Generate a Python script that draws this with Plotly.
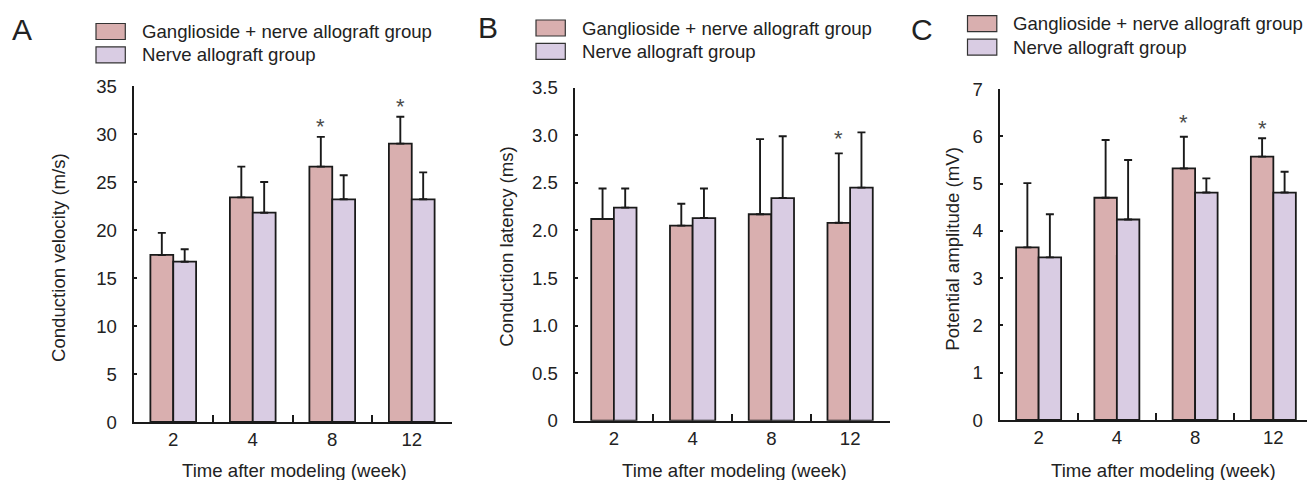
import plotly.graph_objects as go

W, H = 1307, 480

weeks = ["2", "4", "8", "12"]
group_names = ["Ganglioside + nerve allograft group", "Nerve allograft group"]

# Panel A: conduction velocity (m/s)
velocity_gang = [17.4, 23.4, 26.6, 29.0]
velocity_gang_top = [19.7, 26.6, 29.7, 31.8]
velocity_nerve = [16.7, 21.8, 23.2, 23.2]
velocity_nerve_top = [18.0, 25.0, 25.7, 26.0]
velocity_sig = [False, False, True, True]

# Panel B: conduction latency (ms)
latency_gang = [2.12, 2.05, 2.17, 2.08]
latency_gang_top = [2.44, 2.28, 2.96, 2.81]
latency_nerve = [2.24, 2.13, 2.34, 2.45]
latency_nerve_top = [2.44, 2.44, 2.99, 3.03]
latency_sig = [False, False, False, True]

# Panel C: potential amplitude (mV)
amplitude_gang = [3.65, 4.70, 5.32, 5.57]
amplitude_gang_top = [5.01, 5.92, 5.99, 5.96]
amplitude_nerve = [3.44, 4.24, 4.81, 4.81]
amplitude_nerve_top = [4.35, 5.50, 5.11, 5.25]
amplitude_sig = [False, False, True, True]

yticks_A = [0, 5, 10, 15, 20, 25, 30, 35]
yticks_B = [0, 0.5, 1.0, 1.5, 2.0, 2.5, 3.0, 3.5]
yticklabels_B = ["0", "0.5", "1.0", "1.5", "2.0", "2.5", "3.0", "3.5"]
yticks_C = [0, 1, 2, 3, 4, 5, 6, 7]

ytitles = ["Conduction velocity (m/s)", "Conduction latency (ms)", "Potential amplitude (mV)"]
xtitle = "Time after modeling (week)"
letters = ["A", "B", "C"]

COL_G = "#D9AFAF"
COL_N = "#D9CCE3"
EDGE = "#1a1a1a"
TXT = "#222222"
FONT = "Liberation Sans, Arial, sans-serif"
FS = 18.6


def px(x):
    return x / W


def py(y):
    return 1 - y / H


panels = [
    dict(g=velocity_gang, gt=velocity_gang_top, n=velocity_nerve, nt=velocity_nerve_top,
         sig=velocity_sig, yt=yticks_A, ytl=[str(v) for v in yticks_A], yr=[0, 35],
         xdom=[133.5, 451.5], ydom=[422, 86], xr=[-0.5, 3.5],
         letter=(22, 29), leg=(96, 23.5), xt=(294, 470), yttl=(58, 258), star_shift=[0, 0, 10, 10]),
    dict(g=latency_gang, gt=latency_gang_top, n=latency_nerve, nt=latency_nerve_top,
         sig=latency_sig, yt=yticks_B, ytl=yticklabels_B, yr=[0, 3.5],
         xdom=[574.5, 889.5], ydom=[420.7, 87.7], xr=[-0.5, 3.5],
         letter=(488, 27), leg=(536, 20), xt=(734, 470), yttl=(506.7, 247), star_shift=[0, 0, 0, 15]),
    dict(g=amplitude_gang, gt=amplitude_gang_top, n=amplitude_nerve, nt=amplitude_nerve_top,
         sig=amplitude_sig, yt=yticks_C, ytl=[str(v) for v in yticks_C], yr=[0, 7],
         xdom=[999.5, 1307], ydom=[420, 89], xr=[-0.5, 3.43],
         letter=(922, 29), leg=(967.5, 15.7), xt=(1163, 470), yttl=(951.7, 249), star_shift=[0, 0, 14, 10]),
]

fig = go.Figure()
annotations = []
shapes = []

for i, p in enumerate(panels):
    sfx = "" if i == 0 else str(i + 1)
    xa, ya = "x" + sfx, "y" + sfx
    for vals, tops, col, name in [(p["g"], p["gt"], COL_G, group_names[0]),
                                  (p["n"], p["nt"], COL_N, group_names[1])]:
        fig.add_trace(go.Bar(
            x=weeks, y=vals, name=name, xaxis=xa, yaxis=ya, showlegend=False,
            marker=dict(color=col, line=dict(color=EDGE, width=1.8)),
            error_y=dict(type="data", symmetric=False,
                         array=[t - v for t, v in zip(tops, vals)],
                         arrayminus=[0] * len(vals),
                         color=EDGE, thickness=1.9, width=4),
        ))
    axkw = dict(showgrid=False, zeroline=False, showline=True, linecolor=EDGE, linewidth=1.8,
                ticks="inside", tickcolor=EDGE, tickwidth=1.5, automargin=False,
                tickfont=dict(family=FONT, size=FS, color=TXT))
    fig.layout["xaxis" + sfx] = dict(
        axkw, domain=[px(p["xdom"][0]), px(p["xdom"][1])], anchor=ya,
        type="category", range=p["xr"], tickson="boundaries", ticklen=7,
        ticklabelstandoff=0)
    fig.layout["yaxis" + sfx] = dict(
        axkw, domain=[py(p["ydom"][0]), py(p["ydom"][1])], anchor=xa,
        range=p["yr"], tickvals=p["yt"], ticktext=p["ytl"], ticklen=4,
        ticklabelstandoff=11)

    # significance stars
    for k, s in enumerate(p["sig"]):
        if s:
            annotations.append(dict(
                x=k - 0.14375, y=p["gt"][k], xref=xa, yref=ya, text="*",
                showarrow=False, yanchor="middle", yshift=p["star_shift"][k],
                font=dict(family=FONT, size=22, color="#4a4a4a")))

    # panel letter
    lx, ly = p["letter"]
    annotations.append(dict(x=px(lx), y=py(ly), xref="paper", yref="paper", text=letters[i],
                            showarrow=False, xanchor="center", yanchor="middle",
                            font=dict(family=FONT, size=30, color=TXT)))
    # legend
    bx, by = p["leg"]
    for j, col in enumerate([COL_G, COL_N]):
        y0 = by + j * 23.4
        shapes.append(dict(type="rect", xref="paper", yref="paper",
                           x0=px(bx), x1=px(bx + 29.3), y0=py(y0), y1=py(y0 + 16),
                           fillcolor=col, line=dict(color="#333333", width=1.2)))
        annotations.append(dict(x=px(bx + 43.6), y=py(y0 + 8), xref="paper", yref="paper",
                                text=group_names[j], showarrow=False, xanchor="left",
                                yanchor="middle", font=dict(family=FONT, size=FS, color=TXT)))
    # axis titles
    tx, ty = p["xt"]
    annotations.append(dict(x=px(tx), y=py(ty), xref="paper", yref="paper", text=xtitle,
                            showarrow=False, xanchor="center", yanchor="middle",
                            font=dict(family=FONT, size=FS, color=TXT)))
    yx, yy = p["yttl"]
    annotations.append(dict(x=px(yx), y=py(yy), xref="paper", yref="paper", text=ytitles[i],
                            showarrow=False, xanchor="center", yanchor="middle", textangle=-90,
                            font=dict(family=FONT, size=FS, color=TXT)))

fig.update_layout(
    template="none",
    width=W, height=H, margin=dict(l=0, r=0, t=0, b=0, pad=0, autoexpand=False),
    paper_bgcolor="white", plot_bgcolor="white",
    barmode="group", bargap=0.425, bargroupgap=0,
    annotations=annotations, shapes=shapes, showlegend=False,
    font=dict(family=FONT, size=FS, color=TXT),
)

post = (
    "document.documentElement.style.margin='0';"
    "document.documentElement.style.overflow='hidden';"
    "document.body.style.margin='0';document.body.style.padding='0';"
    "document.body.style.overflow='hidden';"
)
fig.write_html("out.html", post_script=post, config={"displayModeBar": False})
